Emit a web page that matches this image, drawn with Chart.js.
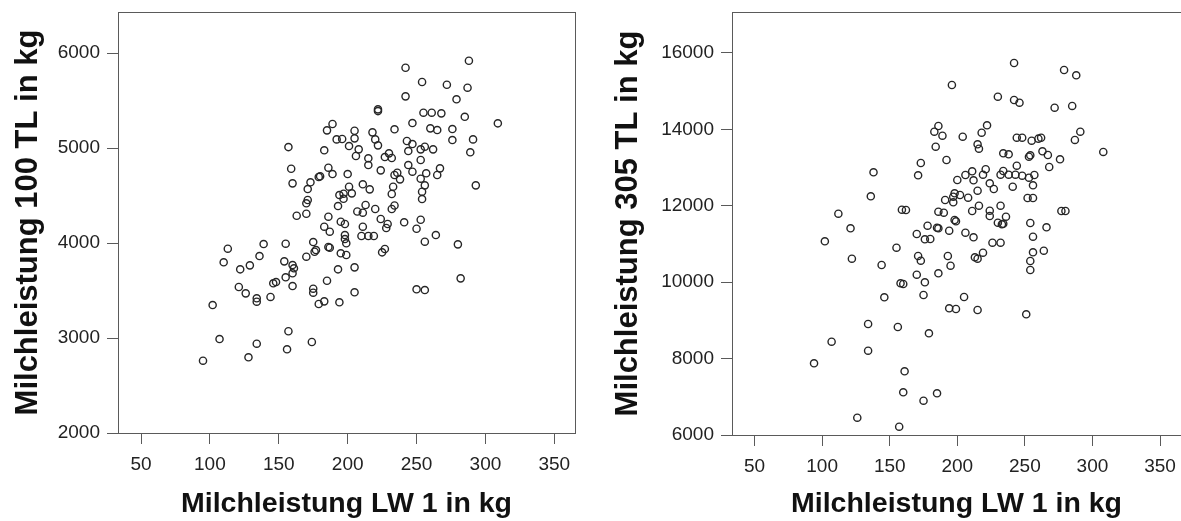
<!DOCTYPE html>
<html>
<head>
<meta charset="utf-8">
<script src="https://cdn.jsdelivr.net/npm/chart.js@4.4.1/dist/chart.umd.min.js"></script>
<style>
  body { margin: 0; background: #fff; overflow: hidden; }
  .box { position: absolute; top: 0; height: 521px; }
  #links { left: 0; width: 590px; }
  #rechts { left: 600px; width: 581px; }
</style>
</head>
<body>
<div class="box" id="links"><canvas id="grafikLinks"></canvas></div>
<div class="box" id="rechts"><canvas id="grafikRechts"></canvas></div>
<script>
// Achsenbeschriftungen
const xTicks = [50, 100, 150, 200, 250, 300, 350];
const yTicksLinks = [2000, 3000, 4000, 5000, 6000];
const yTicksRechts = [6000, 8000, 10000, 12000, 14000, 16000];

// Links: Milchleistung LW 1 vs. 100 TL
const lwLinks = [189,185,192,196,157,183,159,186,189,180,179,200,160,173,171,194,197,197,171,170,
  193,163,170,186,183,187,195,198,198,198,199,113,139,155,175,177,176,186,187,195,
  199,110,122,129,136,154,170,160,161,160,155,193,146,148,160,121,126,134,134,144,
  175,175,185,179,183,194,102,157,107,134,156,174,128,95,288,242,254,272,287,279,
  242,222,222,255,261,268,285,309,247,234,260,265,276,205,205,218,220,222,201,208,
  206,276,291,243,247,244,253,256,262,289,227,230,232,215,215,253,224,244,247,234,
  236,238,253,257,256,254,254,267,265,293,201,211,216,203,233,232,213,207,211,220,
  234,232,224,229,228,211,210,215,219,241,253,250,264,256,280,227,225,205,282,205,
  250,256];
const tl100 = [5253,5186,5091,5095,5010,4976,4782,4793,4726,4702,4695,4726,4628,4639,4568,4505,4519,4466,4453,4418,
  4389,4287,4308,4277,4172,4119,4224,4200,4084,4042,3997,3940,3989,3993,4010,3926,3908,3958,3950,3892,
  3874,3797,3723,3765,3863,3807,3856,3768,3734,3681,3639,3723,3576,3589,3547,3537,3470,3418,3382,3432,
  3519,3477,3603,3358,3386,3376,3347,3071,2989,2940,2881,2958,2797,2761,5919,5845,5695,5666,5635,5513,
  5544,5407,5389,5372,5372,5365,5329,5260,5263,5197,5207,5189,5200,5182,5102,5165,5091,5028,5021,4986,
  4916,5084,5091,5074,5042,4968,4986,5014,4986,4955,4905,4944,4895,4892,4821,4874,4765,4821,4751,4716,
  4740,4670,4677,4734,4607,4540,4463,4786,4716,4607,4593,4618,4565,4523,4593,4516,4400,4332,4319,4358,
  4395,4358,4253,4200,4158,4172,4074,4074,4074,4218,4245,4150,4084,4014,3986,3937,3902,3744,3628,3481,
  3513,3505];

// Rechts: Milchleistung LW 1 vs. 305 TL
const lwRechts = [242,196,279,288,230,242,246,272,285,186,183,189,184,204,222,218,215,216,244,248,
  255,260,262,291,287,308,173,171,138,136,112,121,159,162,178,185,170,176,180,192,
  234,238,253,254,263,267,276,268,244,221,219,211,206,200,212,234,232,238,243,248,
  253,257,224,227,241,256,215,198,197,202,197,208,191,252,256,232,216,211,224,224,
  186,190,198,199,277,280,236,230,233,234,254,266,186,194,206,212,256,226,232,102,
  155,122,144,171,173,170,176,158,160,175,146,134,156,179,107,134,94,161,160,175,
  185,126,157,186,193,195,213,215,219,256,254,254,264,205,194,199,215,251];
const tl305 = [15738,15162,15555,15416,14856,14770,14699,14568,14613,14089,13940,13835,13547,13809,14107,13914,13610,13495,13783,13783,
  13704,13757,13783,13940,13723,13409,13120,12798,12877,12249,11793,11411,11898,11890,11479,11427,11262,11123,11131,13199,
  13374,13348,13285,13322,13427,13330,13217,13016,13050,12956,12814,12903,12806,12675,12668,12911,12814,12814,12814,12788,
  12736,12806,12589,12440,12500,12537,12395,12327,12238,12283,12092,12212,12152,12204,12204,12003,12003,11864,11872,11733,
  11846,11819,11628,11594,11864,11864,11715,11558,11516,11530,11550,11437,11411,11348,11296,11175,11191,11034,11034,11071,
  10903,10615,10450,10686,10563,10196,9997,9971,9953,9665,9605,8906,8827,8662,8442,8207,7877,7668,7118,6898,
  7092,6453,6217,10233,10686,10432,10652,10615,10772,10783,10555,10319,10825,9613,9317,9298,9272,9160];

const achse = '#5a5a5a';

// Rahmen um die Zeichenfläche
const rahmen = {
  id: 'rahmen',
  afterDraw(chart) {
    const { ctx, chartArea: a } = chart;
    ctx.save();
    ctx.strokeStyle = achse;
    ctx.lineWidth = 1;
    ctx.strokeRect(a.left + 0.5, a.top + 0.5, a.right - a.left, a.bottom - a.top);
    ctx.restore();
  }
};

function streudiagramm(id, xs, ys, yTicks, yMin, yMax, xMax, yTitel, yBreite, xHoehe, rechtsPad) {
  const punkte = xs.map((x, i) => ({ x: x, y: ys[i] }));
  return new Chart(document.getElementById(id), {
    type: 'scatter',
    data: {
      datasets: [{
        data: punkte,
        pointRadius: 3.6,
        pointHoverRadius: 3.6,
        pointBorderWidth: 1.4,
        borderColor: '#262626',
        backgroundColor: 'rgba(255,255,255,0)'
      }]
    },
    options: {
      responsive: true,
      maintainAspectRatio: false,
      animation: false,
      layout: { autoPadding: false, padding: { top: 12, right: rechtsPad, left: 0, bottom: 0 } },
      plugins: { legend: { display: false }, tooltip: { enabled: false } },
      scales: {
        x: {
          type: 'linear',
          min: 33.3,
          max: xMax,
          afterBuildTicks: s => { s.ticks = xTicks.map(v => ({ value: v })); },
          afterFit: s => { s.height = xHoehe; s.paddingLeft = 0; s.paddingRight = 0; },
          border: { display: true, color: achse },
          grid: { drawOnChartArea: false, drawTicks: true, tickLength: 11, tickColor: achse },
          ticks: { color: '#222', padding: 9, callback: v => String(v),
                   font: { family: 'Liberation Sans', size: 19 } },
          title: {
            display: true,
            text: 'Milchleistung LW 1 in kg',
            color: '#111',
            padding: { top: 0, bottom: 0 },
            font: { family: 'Liberation Sans', size: 28.5, weight: 'bold' }
          }
        },
        y: {
          type: 'linear',
          min: yMin,
          max: yMax,
          afterBuildTicks: s => { s.ticks = yTicks.map(v => ({ value: v })); },
          afterFit: s => { s.width = yBreite; s.paddingTop = 0; s.paddingBottom = 0; },
          border: { display: true, color: achse },
          grid: { drawOnChartArea: false, drawTicks: true, tickLength: 11, tickColor: achse },
          ticks: { color: '#222', padding: 7, callback: v => String(v),
                   font: { family: 'Liberation Sans', size: 19 } },
          title: {
            display: true,
            text: yTitel,
            color: '#111',
            padding: { top: 10, bottom: 0 },
            font: { family: 'Liberation Sans', size: 31, weight: 'bold' }
          }
        }
      }
    },
    plugins: [rahmen]
  });
}

streudiagramm('grafikLinks', lwLinks, tl100, yTicksLinks, 2000, 6432, 365,
  'Milchleistung 100 TL in kg', 118, 88, 15);
streudiagramm('grafikRechts', lwRechts, tl305, yTicksRechts, 6000, 17073, 365.5,
  'Milchleistung 305 TL in kg', 132, 86, 0);
</script>
</body>
</html>
